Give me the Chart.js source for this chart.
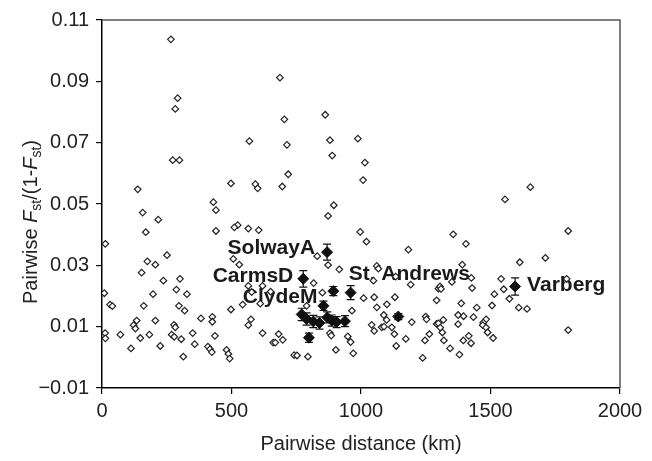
<!DOCTYPE html>
<html>
<head>
<meta charset="utf-8">
<script src="https://cdn.jsdelivr.net/npm/chart.js@4/dist/chart.umd.min.js"></script>
<style>
  html, body { margin: 0; padding: 0; background: #fff; }
  #wrap { width: 652px; height: 461px; }
</style>
</head>
<body>
<div id="wrap"><canvas id="c" width="652" height="461"></canvas></div>
<script>
// ---- Data ----
// Hollow diamonds: all pairwise comparisons
const pairDistanceKm = [
  266, 292, 283, 569, 273, 299, 138, 498, 592, 601,
  687, 704, 862, 714, 880, 988, 889, 1015, 719, 1008, 696,
  1654, 1556,
  430, 440, 157, 217, 524, 511, 565, 605, 169, 440, 13, 251, 175, 206, 507, 530,
  153, 237, 301, 565, 620, 287, 197, 328, 9, 578, 651, 31, 40, 161, 297, 319,
  543, 498, 611, 382, 426, 426, 575, 565, 206, 134, 122, 129, 278, 283, 12, 13,
  71, 183, 148, 269, 279, 350, 306, 436, 620, 661, 358, 225, 112, 409, 417, 424,
  481, 488, 493, 314,
  895, 873, 997, 1021, 1183, 831, 873, 916, 1061, 1067, 1048, 1134, 1192, 1299,
  817, 851, 1010, 1051, 1131, 1292, 790, 965, 1061, 1100, 1088, 1099, 1041, 1051,
  1080, 1089, 1119, 1129, 1196, 1250, 1253, 1292, 1264, 1247, 1173, 1136, 1238,
  682, 669, 698, 880, 885, 949, 960, 903, 970, 742, 753, 795,
  1800, 1356, 1405, 1712, 1613, 1391, 1426, 1541, 1794, 1351, 1305, 1309, 1429,
  1551, 1515, 1573, 1387, 1506, 1609, 1641, 1447, 1375, 1396, 1434, 1318, 1299,
  1306, 1314, 1375, 1483, 1472, 1470, 1483, 1489, 1510, 1416, 1395, 1425, 1320,
  1344, 1380, 1800
];
const pairFst = [
  0.1037, 0.0845, 0.0810, 0.0705, 0.0643, 0.0643, 0.0548, 0.0567, 0.0565, 0.0551,
  0.0912, 0.0776, 0.0791, 0.0693, 0.0708, 0.0713, 0.0658, 0.0635, 0.0597, 0.0578, 0.0557,
  0.0555, 0.0515,
  0.0506, 0.0480, 0.0472, 0.0449, 0.0431, 0.0424, 0.0420, 0.0415, 0.0408, 0.0412, 0.0370, 0.0333, 0.0313, 0.0302, 0.0321, 0.0302,
  0.0276, 0.0250, 0.0256, 0.0233, 0.0233, 0.0221, 0.0206, 0.0206, 0.0209, 0.0213, 0.0214, 0.0172, 0.0167, 0.0168, 0.0168, 0.0152,
  0.0172, 0.0156, 0.0175, 0.0127, 0.0132, 0.0116, 0.0124, 0.0105, 0.0120, 0.0120, 0.0105, 0.0094, 0.0106, 0.0098, 0.0079, 0.0062,
  0.0074, 0.0074, 0.0063, 0.0074, 0.0067, 0.0079, 0.0059, 0.0070, 0.0079, 0.0048, 0.0043, 0.0037, 0.0029, 0.0035, 0.0027, 0.0017,
  0.0024, 0.0011, -0.0004, 0.0002,
  0.0496, 0.0461, 0.0409, 0.0377, 0.0351, 0.0330, 0.0301, 0.0287, 0.0298, 0.0289, 0.0250, 0.0263, 0.0237, 0.0224,
  0.0242, 0.0211, 0.0193, 0.0196, 0.0196, 0.0186, 0.0168, 0.0152, 0.0163, 0.0173, 0.0138, 0.0122, 0.0106, 0.0086,
  0.0098, 0.0100, 0.0098, 0.0076, 0.0115, 0.0133, 0.0124, 0.0109, 0.0076, 0.0055, 0.0060, 0.0037, -0.0002,
  0.0076, 0.0048, 0.0057, 0.0079, 0.0071, 0.0068, 0.0050, 0.0024, 0.0013, 0.0007, 0.0006, 0.0002,
  0.0412, 0.0401, 0.0370, 0.0324, 0.0310, 0.0302, 0.0259, 0.0256, 0.0256, 0.0246, 0.0231, 0.0223, 0.0226,
  0.0222, 0.0206, 0.0191, 0.0176, 0.0169, 0.0162, 0.0158, 0.0162, 0.0138, 0.0134, 0.0131, 0.0122, 0.0111,
  0.0097, 0.0081, 0.0108, 0.0124, 0.0113, 0.0105, 0.0097, 0.0081, 0.0063, 0.0070, 0.0055, 0.0046, 0.0055,
  0.0029, 0.0009, 0.0089
];

// Filled diamonds with error bars
const meanDistanceKm = [869, 777, 893, 960, 855, 771, 790, 816, 840, 870, 887, 906, 938, 799, 1144, 1595];
const meanFst =        [0.0343, 0.0256, 0.0216, 0.0211, 0.0168, 0.0140, 0.0125, 0.0117, 0.0112, 0.0130, 0.0120, 0.0115, 0.0118, 0.0064, 0.0133, 0.0231];
const meanFstErr =     [0.0026, 0.0027, 0.0015, 0.0023, 0.0015, 0.0020, 0.0020, 0.0020, 0.0020, 0.0018, 0.0018, 0.0018, 0.0018, 0.0015, 0.0010, 0.0028];

// Population labels and the filled point each belongs to
const popNames = ['SolwayA', 'CarmsD', 'ClydeM', 'St. Andrews', 'Varberg'];
const popPointIndex = [0, 1, 4, 3, 15];

// Axis ticks
const xTicks = [0, 500, 1000, 1500, 2000];
const yTicks = [-0.01, 0.01, 0.03, 0.05, 0.07, 0.09, 0.11];

// ---- Styling / placement (not data) ----
const FONT = '"Liberation Sans", Arial, Helvetica, sans-serif';
const TEXT = '#222';
const labelPlacement = [
  { align: 'right', dx: -12, dy: 2 },
  { align: 'right', dx: -10, dy: 3 },
  { align: 'right', dx: -6, dy: -3 },
  { align: 'left',  dx: -2, dy: -13 },
  { align: 'left',  dx: 12, dy: 5 }
];

const hollowPts = pairDistanceKm.map((x, i) => ({ x, y: pairFst[i] }));
const filledPts = meanDistanceKm.map((x, i) => ({ x, y: meanFst[i] }));

const popLabelsPlugin = {
  id: 'popLabels',
  beforeDatasetsDraw(chart) {
    const { ctx, scales } = chart;
    ctx.save();
    ctx.font = 'bold 21px ' + FONT;
    ctx.fillStyle = '#1a1a1a';
    ctx.textBaseline = 'alphabetic';
    popNames.forEach((name, k) => {
      const i = popPointIndex[k];
      const p = labelPlacement[k];
      const px = scales.x.getPixelForValue(meanDistanceKm[i]);
      const py = scales.y.getPixelForValue(meanFst[i]);
      ctx.textAlign = p.align;
      ctx.fillText(name, px + p.dx, py + p.dy);
    });
    ctx.restore();
  }
};

const errorBarsPlugin = {
  id: 'errorBars',
  afterDatasetsDraw(chart) {
    const { ctx, scales } = chart;
    ctx.save();
    ctx.strokeStyle = '#111';
    ctx.lineWidth = 1.2;
    meanDistanceKm.forEach((x, i) => {
      const px = scales.x.getPixelForValue(x);
      const y1 = scales.y.getPixelForValue(meanFst[i] + meanFstErr[i]);
      const y2 = scales.y.getPixelForValue(meanFst[i] - meanFstErr[i]);
      ctx.beginPath();
      ctx.moveTo(px, y1); ctx.lineTo(px, y2);
      ctx.moveTo(px - 4, y1); ctx.lineTo(px + 4, y1);
      ctx.moveTo(px - 4, y2); ctx.lineTo(px + 4, y2);
      ctx.stroke();
    });
    ctx.restore();
  }
};

const frameAndTitlesPlugin = {
  id: 'frameTitles',
  afterDraw(chart) {
    const { ctx, chartArea: a } = chart;
    ctx.save();
    // top and right frame
    ctx.strokeStyle = '#555';
    ctx.lineWidth = 1.5;
    ctx.beginPath();
    ctx.moveTo(a.left, a.top); ctx.lineTo(a.right, a.top); ctx.lineTo(a.right, a.bottom);
    ctx.stroke();

    // x title
    ctx.fillStyle = TEXT;
    ctx.font = '20px ' + FONT;
    ctx.textAlign = 'center';
    ctx.textBaseline = 'alphabetic';
    ctx.fillText('Pairwise distance (km)', (a.left + a.right) / 2, 450);

    // y title with italic F and subscript st
    const segs = [
      { t: 'Pairwise ', f: '20px ' + FONT, dy: 0 },
      { t: 'F', f: 'italic 20px ' + FONT, dy: 0 },
      { t: 'st', f: '14px ' + FONT, dy: 4 },
      { t: '/(1-', f: '20px ' + FONT, dy: 0 },
      { t: 'F', f: 'italic 20px ' + FONT, dy: 0 },
      { t: 'st', f: '14px ' + FONT, dy: 4 },
      { t: ')', f: '20px ' + FONT, dy: 0 }
    ];
    let total = 0;
    segs.forEach(s => { ctx.font = s.f; s.w = ctx.measureText(s.t).width; total += s.w; });
    ctx.translate(37, 222);
    ctx.rotate(-Math.PI / 2);
    ctx.textAlign = 'left';
    let x = -total / 2;
    segs.forEach(s => { ctx.font = s.f; ctx.fillText(s.t, x, s.dy); x += s.w; });
    ctx.restore();
  }
};

new Chart(document.getElementById('c'), {
  type: 'scatter',
  data: {
    datasets: [
      {
        data: filledPts,
        pointStyle: 'rectRot',
        pointRadius: 5.5,
        pointHoverRadius: 5.5,
        backgroundColor: '#111',
        borderColor: '#111',
        borderWidth: 1
      },
      {
        data: hollowPts,
        pointStyle: 'rectRot',
        pointRadius: 3.3,
        pointHoverRadius: 3.3,
        backgroundColor: '#fff',
        borderColor: '#222',
        borderWidth: 1.2
      }
    ]
  },
  options: {
    responsive: false,
    animation: false,
    events: [],
    layout: { padding: { left: 0, top: 20, right: 32, bottom: 0 } },
    plugins: { legend: { display: false }, tooltip: { enabled: false } },
    scales: {
      x: {
        type: 'linear',
        min: 0, max: 2000,
        afterFit: s => { s.height = 73; },
        afterBuildTicks: s => { s.ticks = xTicks.map(v => ({ value: v })); },
        ticks: { stepSize: 500, font: { size: 20, family: FONT }, color: TEXT, padding: 5, maxRotation: 0,
                 callback: v => String(v) },
        grid: { drawOnChartArea: false, drawTicks: true, tickLength: 6, color: '#000', lineWidth: 1.2 },
        border: { display: true, color: '#000', width: 1.5 }
      },
      y: {
        type: 'linear',
        min: -0.01, max: 0.11,
        afterFit: s => { s.width = 102; },
        afterBuildTicks: s => { s.ticks = yTicks.map(v => ({ value: v })); },
        ticks: { font: { size: 20, family: FONT }, color: TEXT, padding: 7,
                 callback: v => (v < 0 ? '\u2212' : '') + Math.abs(v).toFixed(2) },
        grid: { drawOnChartArea: false, drawTicks: true, tickLength: 6, color: '#000', lineWidth: 1.2 },
        border: { display: true, color: '#000', width: 1.5 }
      }
    }
  },
  plugins: [popLabelsPlugin, errorBarsPlugin, frameAndTitlesPlugin]
});
</script>
</body>
</html>
